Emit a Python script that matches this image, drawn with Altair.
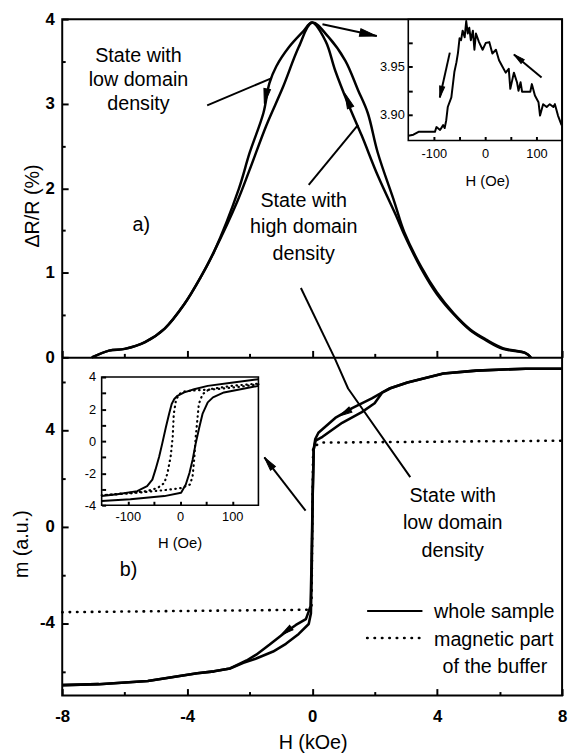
import altair as alt
import pandas as pd

# ---------------- data ----------------
# panel a) : dR/R (%) vs H (kOe), field swept down (+ -> -) and up (- -> +)
a_down_H = [7.0, 6.83, 6.1, 5.57, 5.06, 4.53, 3.99, 3.49, 2.95, 2.73, 2.1, 1.59, 1.15, 0.74, 0.43, 0.0,
            -0.3, -0.74, -1.15, -1.37, -1.56, -2.0, -2.35, -3.14, -3.58, -4.09, -4.72, -5.35, -6.0, -6.5, -7.05]
a_down_R = [0.0, 0.05, 0.10, 0.20, 0.32, 0.51, 0.75, 1.05, 1.45, 1.64, 2.15, 2.62, 3.00, 3.39, 3.74, 3.96,
            3.85, 3.67, 3.44, 3.24, 2.89, 2.42, 1.99, 1.25, 0.94, 0.63, 0.34, 0.18, 0.10, 0.08, 0.0]
a_up_H = [-7.05, -6.5, -6.0, -5.35, -4.72, -4.09, -3.58, -3.14, -2.4, -2.0, -1.47, -0.93, -0.43, 0.0,
          0.52, 1.06, 1.47, 1.78, 2.1, 2.63, 2.95, 3.49, 3.99, 4.53, 5.06, 5.57, 6.1, 6.83, 7.0]
a_up_R = [0.0, 0.08, 0.10, 0.18, 0.34, 0.63, 0.94, 1.25, 1.84, 2.22, 2.74, 3.20, 3.67, 3.96,
          3.79, 3.51, 3.16, 2.89, 2.42, 1.84, 1.48, 1.07, 0.77, 0.52, 0.33, 0.21, 0.11, 0.05, 0.0]

# inset of panel a) : dR/R (%) vs H (Oe)
ti_H = [-150, -140, -130, -117, -98, -95, -88, -82, -79, -76, -73, -66, -60, -56, -53, -50, -47, -44, -40, -37,
        -34, -31, -28, -24, -21, -18, -12, -5, 1, 8, 14, 21, 27, 33, 40, 46, 49, 56, 62, 65,
        69, 72, 78, 88, 91, 97, 104, 107, 113, 120, 126, 133, 136, 142, 149]
ti_R = [3.878, 3.879, 3.882, 3.882, 3.882, 3.887, 3.884, 3.889, 3.886, 3.894, 3.908, 3.918, 3.945, 3.955, 3.965,
        3.980, 3.978, 3.988, 3.981, 3.998, 3.985, 3.991, 3.978, 3.988, 3.968, 3.985, 3.976, 3.968, 3.975, 3.976,
        3.964, 3.968, 3.957, 3.951, 3.944, 3.948, 3.927, 3.944, 3.934, 3.925, 3.934, 3.924, 3.924, 3.924, 3.932,
        3.920, 3.913, 3.899, 3.911, 3.908, 3.911, 3.908, 3.911, 3.899, 3.889]

# panel b) : m (a.u.) vs H (kOe)
b_down_H = [8, 6.83, 5.25, 4.2, 3.05, 2.5, 2.25, 1.91, 1.28, 0.74, 0.2, 0.1, 0.05, 0.02, -0.02, -0.05,
            -0.2, -0.52, -0.93, -1.37, -1.79, -2.1, -2.63, -3.14, -3.68, -5.26, -6.83, -8]
b_down_m = [6.53, 6.53, 6.45, 6.33, 5.96, 5.72, 5.55, 5.3, 4.9, 4.49, 3.88, 3.62, 3.2, 1.5, -1.5, -3.3,
            -3.84, -4.08, -4.45, -4.9, -5.31, -5.55, -5.88, -6.0, -6.08, -6.4, -6.53, -6.57]
b_up_H = [-8, -6.83, -5.26, -3.68, -3.14, -2.63, -2.2, -1.79, -1.25, -0.84, -0.43, -0.11, -0.04, -0.01,
          0.02, 0.05, 0.11, 0.33, 0.96, 1.59, 2.0, 2.25, 2.5, 3.05, 4.2, 5.25, 6.83, 8]
b_up_m = [-6.57, -6.53, -6.4, -6.08, -6.0, -5.88, -5.65, -5.47, -5.18, -4.86, -4.45, -4.04, -3.6, -1.5,
          1.5, 3.2, 3.55, 3.71, 4.29, 4.73, 5.1, 5.55, 5.72, 5.96, 6.33, 6.45, 6.53, 6.53]
buf_H = [-8, -0.15, -0.02, 0.03, 0.3, 8]
buf_m = [-3.55, -3.45, -3.3, 3.3, 3.47, 3.55]

# inset of panel b) : m vs H (Oe)
bi_sd_H = [150, 98, 53, 27, 8, -5, -11, -16, -21, -27, -34, -40, -47, -53, -63, -82, -120, -150]
bi_sd_m = [3.86, 3.65, 3.45, 3.24, 3.04, 2.83, 2.63, 2.32, 1.70, 0.88, -0.14, -0.97, -1.78, -2.4, -2.81, -3.12, -3.32, -3.43]
bi_su_H = [-150, -95, -30, 2, 11, 18, 24, 30, 37, 43, 53, 63, 84, 116, 150]
bi_su_m = [-3.73, -3.63, -3.43, -3.22, -2.71, -1.99, -1.17, -0.14, 0.88, 1.70, 2.42, 2.73, 3.04, 3.24, 3.45]
bi_dd_H = [150, 111, 67, 34, 8, -2, -8, -12, -14, -18, -24, -30, -43, -63, -107, -150]
bi_dd_m = [3.55, 3.38, 3.24, 3.18, 3.10, 2.93, 2.52, 1.70, 0.27, -0.97, -1.99, -2.61, -2.92, -3.12, -3.26, -3.38]
bi_du_H = [-150, -95, -30, 2, 19, 24, 27, 30, 33, 36, 43, 56, 98, 150]
bi_du_m = [-3.38, -3.26, -3.06, -2.93, -2.71, -2.2, -1.17, 0.27, 1.29, 2.32, 2.93, 3.24, 3.45, 3.59]

# axis tick values
main_x_major = [-8, -4, 0, 4, 8]
main_x_minor = [-6, -2, 2, 6]
a_y_major = [0, 1, 2, 3, 4]
a_y_minor = [0.5, 1.5, 2.5, 3.5]
b_y_major = [-4, 0, 4]
b_y_minor = [-6, -2, 2, 6]
ti_x_ticks = [-100, -50, 0, 50, 100]
ti_y_ticks = [3.9, 3.925, 3.95, 3.975]
bi_x_ticks = [-100, -50, 0, 50, 100]
bi_y_ticks = [-4, -3, -2, -1, 0, 1, 2, 3, 4]

# annotations (in data units of their panel)
a_arrow_top = ([0.33, 2.07], [3.94, 3.80])
a_ptr_low = ([-3.36, -1.31], [2.98, 3.30])
a_ptr_high = ([-0.11, 1.47], [2.04, 2.75])
a_ptr_down = ([-0.36, 0.71], [0.82, 0.0])
b_ptr = ([0.71, 1.15, 3.14], [7.0, 5.71, 2.04])
b_inset_arrow = ([-0.21, -1.53], [0.65, 2.86])
ti_arrow1 = ([-69, -88.5], [3.965, 3.918])
ti_arrow2 = ([110, 56], [3.939, 3.963])
legend_solid = ([1.76, 3.53], [-3.5, -3.5])
legend_dot = ([1.76, 3.44], [-4.62, -4.62])

# ---------------- helpers ----------------
FONT = "Liberation Sans"
W, HT, HALF = 507, 686, 343
HEAD = "M0,0L0.45,2L-0.45,2Z"


def sc(dom, rng):
    return alt.Scale(domain=dom, range=rng, nice=False, zero=False)


MX = sc([-8, 8], [0, W])
AY = sc([0, 4], [HALF, 0])
BY = sc([-7, 7], [HT, HALF])
TIX = sc([-150, 150], [351, 507])
TIY = sc([3.873, 4.0], [123, 0])
BIX = sc([-150, 150], [40, 199])
BIY = sc([-4, 4], [493, 363])


def axis(orient, values, tick, offset, labels=False, pad=0, size=17, weight="bold",
         expr=None, title=None, tx=0, ty=0, tsize=20, domain=False):
    kw = dict(orient=orient, values=values, tickSize=tick, tickWidth=2, tickColor="black",
              offset=offset, domain=domain, grid=False, labels=labels, zindex=1)
    if domain:
        kw.update(domainColor="black", domainWidth=2)
    if labels:
        kw.update(labelPadding=pad, labelFontSize=size, labelFont=FONT, labelFontWeight=weight,
                  labelColor="black", labelFlush=False, labelOverlap=False)
        if expr:
            kw["labelExpr"] = expr
    if title:
        kw.update(title=title, titleX=tx, titleY=ty, titleFont=FONT, titleFontSize=tsize,
                  titleFontWeight="normal", titleAlign="center", titleBaseline="middle",
                  titleColor="black")
    else:
        kw["title"] = None
    return alt.Axis(**kw)


def series_df(items):
    rows = []
    for name, xs, ys in items:
        for i, (a, b) in enumerate(zip(xs, ys)):
            rows.append({"s": name, "i": i, "x": a, "y": b})
    return pd.DataFrame(rows)


def lines(items, xs, ys, width=2.5, dash=None, interp="linear", xaxis=None, yaxis=None):
    props = dict(color="black", strokeWidth=width, interpolate=interp, strokeJoin="round")
    if dash:
        props.update(strokeDash=dash, strokeCap="round")
    return alt.Chart(series_df(items)).mark_line(**props).encode(
        x=alt.X("x:Q", scale=xs, axis=xaxis),
        y=alt.Y("y:Q", scale=ys, axis=yaxis),
        detail="s:N", order="i:Q")


def head(x, y, angle, size, xs, ys):
    df = pd.DataFrame({"x": [x], "y": [y]})
    return alt.Chart(df).mark_point(shape=HEAD, angle=angle, size=size, filled=True,
                                    fill="black", stroke="black", strokeWidth=1,
                                    fillOpacity=1, opacity=1).encode(
        x=alt.X("x:Q", scale=xs, axis=None), y=alt.Y("y:Q", scale=ys, axis=None))


def texts(xv, yv, tv, xs, ys, align="center", size=20, lh=26):
    df = pd.DataFrame({"x": xv, "y": yv, "t": tv})
    return alt.Chart(df).mark_text(font=FONT, fontSize=size, align=align, baseline="middle",
                                   lineBreak="\n", lineHeight=lh, color="black").encode(
        x=alt.X("x:Q", scale=xs, axis=None), y=alt.Y("y:Q", scale=ys, axis=None), text="t:N")


def carrier(xdom, ydom, xs, ys, xaxis, yaxis):
    df = pd.DataFrame({"x": xdom, "y": ydom})
    return alt.Chart(df).mark_point(opacity=0).encode(
        x=alt.X("x:Q", scale=xs, axis=xaxis), y=alt.Y("y:Q", scale=ys, axis=yaxis))


def frame(xdom, ydom, xs, ys):
    df = pd.DataFrame({"x": [xdom[0]], "x2": [xdom[1]], "y": [ydom[0]], "y2": [ydom[1]]})
    return alt.Chart(df).mark_rect(fillOpacity=0, stroke="black", strokeWidth=1.6).encode(
        x=alt.X("x:Q", scale=xs, axis=None), x2="x2:Q",
        y=alt.Y("y:Q", scale=ys, axis=None), y2="y2:Q")


NUM = "toString(datum.value)"

# ---------------- panel a ----------------
layers = []
layers.append(lines([("down", a_down_H, a_down_R), ("up", a_up_H, a_up_R)], MX, AY,
                    interp="catmull-rom",
                    xaxis=axis("top", main_x_major, 7, -HALF, domain=True),
                    yaxis=axis("left", a_y_major, 6, -6, labels=True, pad=8, expr=NUM,
                               title="ΔR/R (%)", tx=-36, ty=189)))
layers.append(carrier([-8, 8], [0, 4], MX, AY,
                      axis("top", main_x_minor, 4, -HALF),
                      axis("left", a_y_minor, 3, -3)))
layers.append(lines([("t", *a_arrow_top), ("l", *a_ptr_low), ("h", *a_ptr_high), ("d", *a_ptr_down)],
                    MX, AY, width=2))
layers.append(head(a_arrow_top[0][1], a_arrow_top[1][1], 102, 300, MX, AY))
layers.append(head(-1.53, 3.0, 191, 230, MX, AY))
layers.append(head(1.05, 3.12, 338, 230, MX, AY))
layers.append(texts([-5.56], [3.56], ["State with\nlow domain\ndensity"], MX, AY, lh=24))
layers.append(texts([-5.47], [1.57], ["a)"], MX, AY))
layers.append(texts([-0.27], [1.85], ["State with\nhigh domain\ndensity"], MX, AY, lh=27))

# inset of a
layers.append(frame([-150, 150], [3.873, 4.0], TIX, TIY))
layers.append(lines([("n", ti_H, ti_R)], TIX, TIY, width=2,
                    xaxis=axis("bottom", ti_x_ticks, 4, -567, labels=True, pad=7, size=13, weight="normal",
                               expr="abs(datum.value) % 100 == 0 ? toString(datum.value) : ''",
                               title="H (Oe)", tx=431, ty=45, tsize=15),
                    yaxis=axis("left", ti_y_ticks, 4, -355, labels=True, pad=4, size=13, weight="normal",
                               expr="abs(datum.value - round(datum.value*20)/20) < 0.001 ? format(datum.value, '.2f') : ''")))
layers.append(lines([("a1", *ti_arrow1), ("a2", *ti_arrow2)], TIX, TIY, width=2))
layers.append(head(ti_arrow1[0][1], ti_arrow1[1][1], 192, 130, TIX, TIY))
layers.append(head(ti_arrow2[0][1], ti_arrow2[1][1], 309, 130, TIX, TIY))

# ---------------- panel b ----------------
layers.append(lines([("down", b_down_H, b_down_m), ("up", b_up_H, b_up_m)], MX, BY, width=2.6,
                    xaxis=axis("bottom", main_x_major, 7, -7, labels=True, pad=13, expr=NUM,
                               title="H (kOe)", tx=254, ty=55),
                    yaxis=axis("left", b_y_major, 6, -6, labels=True, pad=8, expr=NUM,
                               title="m  (a.u.)", tx=-47, ty=532)))
layers.append(carrier([-8, 8], [-7, 7], MX, BY,
                      axis("bottom", main_x_minor, 4, -4),
                      axis("left", b_y_minor, 3, -3)))
layers.append(lines([("buf", buf_H, buf_m), ("leg", *legend_dot)], MX, BY, width=2.6, dash=[0.5, 7]))
layers.append(lines([("leg", *legend_solid), ("p", *b_ptr), ("ia", *b_inset_arrow)], MX, BY, width=2))
layers.append(head(b_inset_arrow[0][1], b_inset_arrow[1][1], 322, 200, MX, BY))
layers.append(head(0.87, 4.57, 240, 170, MX, BY))
layers.append(head(-1.0, -4.5, 234, 170, MX, BY))
layers.append(texts([4.5], [1.27], ["State with\nlow domain\ndensity"], MX, BY, lh=28))
layers.append(texts([-5.88], [-1.8], ["b)"], MX, BY))
layers.append(texts([3.9, 3.9], [-3.55, -4.7], ["whole sample", "magnetic part"], MX, BY, align="left"))
layers.append(texts([5.85], [-5.84], ["of the buffer"], MX, BY))

# inset of b
layers.append(frame([-150, 150], [-4, 4], BIX, BIY))
layers.append(lines([("sd", bi_sd_H, bi_sd_m), ("su", bi_su_H, bi_su_m)], BIX, BIY, width=2,
                    xaxis=axis("bottom", bi_x_ticks, 4, -197, labels=True, pad=5, size=13, weight="normal",
                               expr="abs(datum.value) % 100 == 0 ? toString(datum.value) : ''",
                               title="H (Oe)", tx=119, ty=42, tsize=15),
                    yaxis=axis("left", bi_y_ticks, 4, -44, labels=True, pad=6, size=13, weight="normal",
                               expr="abs(datum.value) % 2 == 0 ? toString(datum.value) : ''")))
layers.append(lines([("dd", bi_dd_H, bi_dd_m), ("du", bi_du_H, bi_du_m)], BIX, BIY, width=2.2,
                    dash=[0.5, 4.5]))

chart = alt.layer(*layers).resolve_scale(x="independent", y="independent").properties(
    width=W, height=HT,
    autosize=alt.AutoSizeParams(type="none"),
    padding={"left": 55, "top": 6, "right": 6, "bottom": 54},
).configure_view(stroke="black", strokeWidth=2)

chart.save("out.html", embed_options={"renderer": "svg", "actions": False})
